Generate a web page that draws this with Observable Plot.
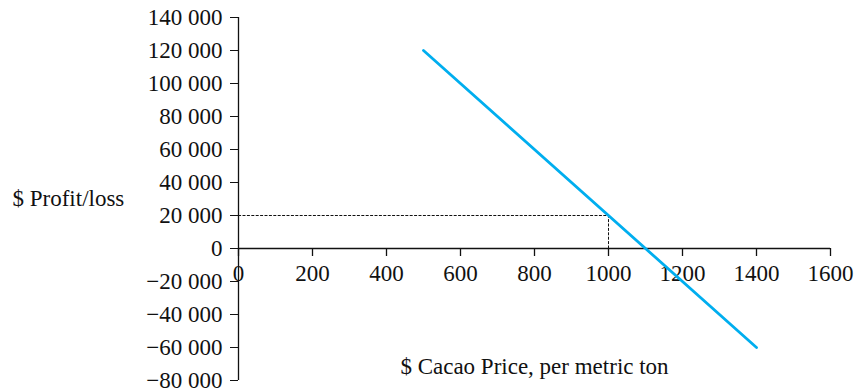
<!DOCTYPE html>
<html>
<head>
<meta charset="utf-8">
<script src="https://cdn.jsdelivr.net/npm/d3@7"></script>
<script src="https://cdn.jsdelivr.net/npm/@observablehq/plot@0.6"></script>
<style>
  html, body { margin: 0; padding: 0; background: #fff; }
  #chart { width: 861px; height: 388px; }
</style>
</head>
<body>
<div id="chart"></div>
<script>
// ---- data ----
const prices = [500, 1400];              // $ per metric ton
const profits = [120000, -60000];        // $ profit / loss
const guidePrice = [0, 1000, 1000];      // dotted guide, x
const guideProfit = [20000, 20000, 0];   // dotted guide, y
const xTicks = [0, 200, 400, 600, 800, 1000, 1200, 1400, 1600];
const yTicks = [-80000, -60000, -40000, -20000, 0, 20000, 40000, 60000, 80000, 100000, 120000, 140000];
const yLabel = "$ Profit/loss";
const xLabel = "$ Cacao Price, per metric ton";

const payoff = prices.map((p, i) => ({price: p, profit: profits[i]}));
const guide = guidePrice.map((p, i) => ({price: p, profit: guideProfit[i]}));

const locale = d3.formatLocale({decimal: ".", thousands: "\u2009".replace("\u2009", " "), grouping: [3], currency: ["$", ""], minus: "\u2212"});
const fmt = locale.format(",");

const font = "'Liberation Serif', 'DejaVu Serif', serif";
const fs = 23;

const chart = Plot.plot({
  width: 861,
  height: 388,
  marginLeft: 238,
  marginRight: 31,
  marginTop: 17,
  marginBottom: 8,
  style: {fontFamily: font, fontSize: fs + "px", color: "#111", background: "white", overflow: "visible"},
  x: {domain: [xTicks[0], xTicks[xTicks.length - 1]], axis: null},
  y: {domain: [yTicks[0], yTicks[yTicks.length - 1]], ticks: yTicks, tickFormat: fmt, tickSize: 8, tickPadding: 8, label: null},
  marks: [
    // dotted guide
    Plot.line(guide, {x: "price", y: "profit", stroke: "#111", strokeWidth: 1, strokeDasharray: "2.2,2.2"}),
    // axes lines
    Plot.ruleX([0], {stroke: "#111", strokeWidth: 1.3}),
    Plot.ruleY([0], {stroke: "#111", strokeWidth: 1.3}),
    // x ticks on the zero axis (downward)
    Plot.ruleX(xTicks, {x: d => d, y1: 0, y2: 0, insetBottom: -8, stroke: "#111", strokeWidth: 1.3}),
    Plot.text(xTicks, {x: d => d, y: 0, dy: 25, text: d => String(d), fill: "#111", fontSize: fs}),
    // payoff line
    Plot.line(payoff, {x: "price", y: "profit", stroke: "#00AEEF", strokeWidth: 2.8}),
    // labels
    Plot.text([yLabel], {frameAnchor: "left", dx: -226, text: d => d, textAnchor: "start", fill: "#111", fontSize: fs}),
    Plot.text([xLabel], {frameAnchor: "bottom", dy: -7, text: d => d, textAnchor: "middle", fill: "#111", fontSize: fs})
  ]
});
document.getElementById("chart").appendChild(chart);
</script>
</body>
</html>
